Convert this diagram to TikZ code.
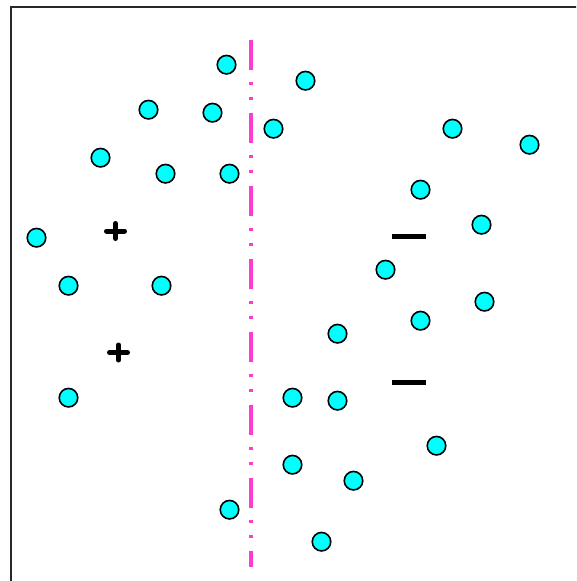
\documentclass[tikz,border=0pt]{standalone}
\usepackage{tikz}
\usetikzlibrary{positioning,calc}
\usepackage{xcolor}
\definecolor{ptcyan}{RGB}{0,255,255}
\definecolor{splitpink}{RGB}{255,60,210}
\definecolor{framegrey}{RGB}{40,40,40}

\begin{document}
\begin{tikzpicture}[x=1pt, y=-1pt,
    sample/.style={circle, draw=black, line width=1.6pt, fill=ptcyan,
        minimum size=18.5pt, inner sep=0pt},
    sign/.style={line width=5pt, black, line cap=round},
    boundary/.style={splitpink, line width=4pt,
        dash pattern=on 30pt off 12pt on 3pt off 12pt on 3pt off 13pt}
]
    \useasboundingbox (0,0) rectangle (576,581);
    \clip (0,0) rectangle (576,581);
    \draw[framegrey, line width=1.8pt] (11,7) rectangle (620,620);

    % separating line
    \coordinate (top) at (250.5,39.5);
    \coordinate (bottom) at (250.5,567);
    \draw[boundary] (top) -- (bottom);

    % data points
    \foreach \x/\y [count=\i] in {226/64, 305/80, 148/109, 212/112, 273/128,
        100/157, 165/173, 229/173, 452/128, 529/144, 420/189, 36/237,
        481/224, 385/269, 68/285, 161/285, 484/301, 420/320, 337/333,
        68/397, 292/397, 337/400, 436/445, 292/464, 353/480, 229/509,
        321/541}
        \node[sample] (p\i) at (\x+0.5,\y+0.7) {};

    % class signs
    \coordinate (plus1) at (115.5,231);
    \coordinate (plus2) at (118.5,352.5);
    \foreach \c in {plus1, plus2} {
        \draw[sign] ($(\c)+(-9,0)$) -- ($(\c)+(9,0)$);
        \draw[sign] ($(\c)+(0,-7.5)$) -- ($(\c)+(0,7.5)$);
    }
    \coordinate (minus1) at (408.5,236);
    \coordinate (minus2) at (408.5,382.5);
    \foreach \c in {minus1, minus2}
        \draw[sign, line cap=butt] ($(\c)+(-17,0)$) -- ($(\c)+(17,0)$);
\end{tikzpicture}
\end{document}
